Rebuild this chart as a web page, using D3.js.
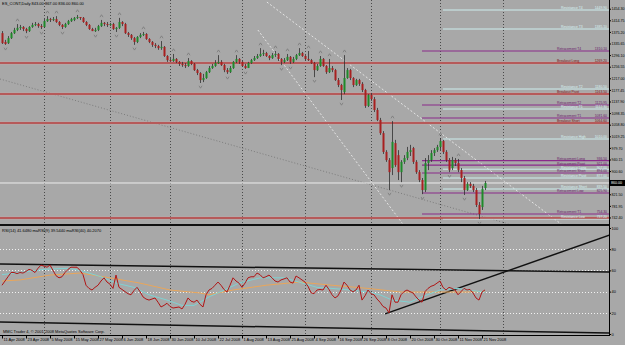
<!DOCTYPE html>
<html lang="en">
<head>
<meta charset="utf-8">
<script src="https://d3js.org/d3.v7.min.js"></script>
<style>
  body { margin: 0; background: #a8a8a8; }
  svg { display: block; font-family: "Liberation Sans", Arial, sans-serif; }
</style>
</head>
<body>
<script>
// ES_CONT daily bars, bar 0 = 11 Apr 2008
const open = [1371,1341,1337,1354,1371,1382,1389,1392,1385,1378,
  1392,1399,1402,1395,1392,1412,1419,1416,1419,1409,
  1399,1392,1402,1412,1416,1423,1426,1423,1409,1399,
  1385,1378,1382,1395,1406,1402,1399,1402,1385,1389,
  1409,1402,1371,1365,1354,1341,1358,1365,1368,1351,
  1341,1331,1327,1320,1324,1293,1279,1276,1283,1273,
  1266,1262,1259,1276,1266,1245,1235,1211,1218,1238,
  1252,1259,1269,1273,1262,1245,1238,1252,1273,1283,
  1273,1259,1252,1269,1279,1286,1293,1300,1303,1293,
  1286,1296,1300,1283,1273,1279,1290,1273,1283,1296,
  1303,1293,1283,1279,1269,1245,1259,1283,1259,1238,
  1252,1245,1211,1194,1170,1218,1245,1218,1194,1211,
  1198,1177,1123,1160,1146,1109,1075,1030,966,938,
  911,996,955,897,932,945,966,979,932,897,
  870,836,928,938,962,972,983,1003,966,938,
  911,938,928,904,877,836,857,850,836,785,
  778,843];
const high = [1378,1348,1361,1375,1389,1402,1399,1395,1389,1395,
  1406,1409,1406,1402,1419,1429,1423,1426,1429,1412,
  1402,1406,1416,1423,1426,1433,1426,1426,1412,1402,
  1389,1389,1399,1416,1409,1409,1406,1406,1392,1423,
  1412,1406,1375,1368,1358,1361,1371,1375,1371,1354,
  1344,1337,1331,1344,1327,1296,1286,1300,1286,1276,
  1273,1269,1286,1279,1269,1249,1238,1232,1242,1259,
  1266,1279,1296,1279,1266,1252,1259,1276,1296,1286,
  1276,1266,1273,1283,1293,1300,1320,1314,1307,1296,
  1303,1310,1303,1286,1286,1300,1293,1290,1300,1320,
  1307,1296,1310,1283,1273,1266,1293,1286,1262,1283,
  1259,1249,1218,1198,1296,1252,1249,1221,1215,1215,
  1204,1181,1163,1167,1153,1116,1082,1037,972,945,
  1071,1007,972,938,955,983,990,983,938,904,
  877,945,955,972,979,990,1013,1007,972,945,
  949,945,942,911,884,863,863,857,843,795,
  850,867];
const low = [1334,1331,1334,1351,1368,1378,1382,1378,1371,1375,
  1389,1395,1389,1385,1389,1409,1409,1412,1406,1395,
  1385,1389,1399,1409,1412,1419,1416,1406,1395,1382,
  1378,1375,1378,1392,1395,1392,1395,1382,1375,1385,
  1395,1368,1358,1348,1331,1337,1354,1361,1348,1337,
  1324,1320,1314,1314,1290,1273,1273,1273,1269,1259,
  1256,1252,1256,1262,1242,1228,1201,1204,1215,1235,
  1249,1256,1266,1259,1238,1232,1235,1249,1269,1266,
  1256,1249,1252,1266,1276,1283,1290,1293,1290,1279,
  1283,1290,1276,1262,1269,1276,1266,1269,1279,1293,
  1290,1279,1276,1266,1221,1242,1256,1256,1232,1235,
  1238,1208,1187,1143,1163,1215,1211,1187,1191,1191,
  1170,1116,1119,1140,1102,1071,1024,959,932,836,
  887,915,870,863,925,938,952,925,891,863,
  822,829,904,932,952,966,972,959,932,897,
  904,918,897,863,819,833,843,829,778,737,
  768,836];
const close = [1337,1334,1354,1371,1382,1389,1392,1385,1378,1392,
  1399,1402,1395,1392,1412,1419,1416,1419,1409,1399,
  1392,1402,1412,1419,1423,1426,1423,1409,1399,1385,
  1378,1382,1395,1406,1402,1399,1402,1385,1389,1409,
  1402,1371,1365,1354,1341,1358,1365,1368,1351,1341,
  1331,1327,1320,1324,1293,1279,1276,1283,1273,1266,
  1262,1259,1276,1266,1245,1235,1211,1218,1238,1252,
  1259,1269,1273,1262,1245,1238,1252,1273,1283,1273,
  1259,1252,1269,1279,1286,1293,1300,1303,1293,1286,
  1296,1300,1283,1273,1279,1290,1273,1283,1296,1303,
  1293,1283,1279,1269,1245,1259,1283,1259,1238,1252,
  1245,1211,1194,1177,1218,1245,1218,1194,1211,1198,
  1177,1123,1160,1146,1109,1075,1030,966,938,897,
  1000,921,897,932,945,966,972,932,897,870,
  836,928,938,962,972,983,1003,966,938,904,
  938,928,904,877,836,857,850,836,785,754,
  840,860];

const rsi = [46,50,54,58,58,57,58,57.5,59,61,
  60,58,62,65,64,63,65,60,55,53,
  54,58,61,63,63,63,60,56,46,43,
  41.5,44,46,50,53,49,47,43,55.6,44,
  42,40,38,37,41,44,40,35,33,32,
  33,34,30,25.5,27,29,26,24.5,25,25.5,
  23.6,28,34,31,30,32,28,25.5,37,41.5,
  43,46,49,46,42,39.6,46,53,50,48,
  44,48,53,54,54,57.5,56,53,54,55.6,
  53,50,49,51,52,53,49,48,54.7,53,
  51,49,45,39,38,41.5,42,41.5,46,42,
  37,34,36,41.5,49,46,41.5,40,41.5,46,
  32,36,41.5,38,37,33,30,26,24.5,20,
  37,30,30,37,40,41.5,40,38.7,35,32,
  30,40,43,45,46,48,50,44,41.5,44,
  43,41.5,37,40,43,41.5,42,38.7,34,32,
  39.6,41.6];
// moving averages of RSI, read at these bars
const ma9Bars = [0,6,14,22,26,33,38,44,49,55,60,64,66,69,73,79,86,94,99,105,110,116,122,126,130,136,140,146,152,155,161];
const ma9Vals = [56,58,61,62,60,54,48,44,37,32,27,27,30,35,40,48,53,53,49,44,43,41.5,39.6,37,32,30,35,41.5,43,41.5,39.5];
const ma40Bars = [0,6,16,26,36,46,56,66,69,77,88,99,110,122,133,144,155,161];
const ma40Vals = [50,51,55.6,57.5,53,48,41.5,38.7,37,41.5,46,49,46,43,39.6,39.6,39.6,40.2];

const dateBars = [0,8,16,24,32,40,48,56,64,72,80,88,96,104,112,120,128,136,144,152,160];
const dateLabels = ["11 Apr 2008","23 Apr 2008","5 May 2008","15 May 2008","27 May 2008","6 Jun 2008",
  "18 Jun 2008","30 Jun 2008","10 Jul 2008","22 Jul 2008","1 Aug 2008","13 Aug 2008","25 Aug 2008",
  "4 Sep 2008","16 Sep 2008","26 Sep 2008","8 Oct 2008","20 Oct 2008","30 Oct 2008","11 Nov 2008","21 Nov 2008"];
const gridBars = [14,36,56,80,101,123,146,167];
const priceTicks = [1454.30,1414.75,1375.20,1335.65,1296.10,1256.55,1217.00,1177.45,1137.90,1098.35,
  1058.80,1019.25,979.70,940.15,900.60,861.05,821.50,781.95,742.40];
const rsiTicks = [0,20,40,60,80,100];

const fractalUp = [5,15,18,25,33,39,47,53,57,62,72,78,86,91,95,99,102,106,109,114,130,146,152];
const fractalDown = [1,8,13,20,31,38,44,66,75,81,93,96,104,113,129,133,140,149,154,159];

// pivot / target levels (kind: brk = red full width, ret = purple, res = light cyan)
const levelNames = ["Resistance T4","Resistance T3","Retracement T4","Breakout Long","Resistance T2",
  "Breakout Pivot","Retracement T2","Resistance T1","Retracement T1","Breakout Short","Resistance High",
  "Retracement Long","Retracement Pivot","Resistance Long","Retracement Short","Resistance Pivot",
  "Resistance Short","Retracement Low","Retracement T1","Resistance Low",""];
const levelValues = [1449.90,1385.10,1310.10,1269.20,1180.50,1163.50,1125.95,1112.30,1081.60,1064.60,1010.00,
  936.50,921.00,907.00,894.00,877.00,839.50,825.90,754.30,737.20,740.60];
const levelKinds = ["res","res","ret","brk","res","brk","ret","res","ret","brk","res",
  "ret","ret","res","ret","res","res","ret","ret","res","brk"];
const bidPrice = 860;

// hand-drawn lines: [bar, price] pairs
const grayTrend = [[-0.67,1214.6],[202.7,621.6]];
const channelA = [[88.3,1477],[202.7,594]];
const channelB = [[85.3,1381.7],[133.5,721.5]];
// RSI window lines: [bar, rsi]
const rsiUpper = [[-0.67,66],[202.7,58.5]];
const rsiLower = [[-0.67,11.3],[202.7,0.9]];
const rsiRise = [[127.7,19],[202.7,93.5]];

const W = 625, H = 345;
const right = 609;
const FS = 4;
const x = d3.scaleLinear().domain([0, 1]).range([2, 5]);
const yP = d3.scaleLinear().domain([713.34, 1484]).range([226, 0]);
const yR = d3.scaleLinear().domain([0, 100]).range([334, 228]);

const svg = d3.select("body").append("svg").attr("width", W).attr("height", H);
svg.append("rect").attr("width", W).attr("height", H).attr("fill", "#a8a8a8");

const defs = svg.append("defs");
defs.append("clipPath").attr("id", "cpP").append("rect").attr("x", 0).attr("y", 0).attr("width", right).attr("height", 223.5);
defs.append("clipPath").attr("id", "cpR").append("rect").attr("x", 0).attr("y", 227).attr("width", right).attr("height", 108);

// vertical grid
svg.append("g").selectAll("line").data(gridBars).join("line")
  .attr("x1", d => Math.round(x(d)) + 0.5).attr("x2", d => Math.round(x(d)) + 0.5)
  .attr("y1", 0).attr("y2", 335)
  .attr("stroke", "#4a4a4a").attr("stroke-dasharray", "1,2");

// ---------- price window ----------
const gP = svg.append("g").attr("clip-path", "url(#cpP)");
const lineP = d3.line().x(d => x(d[0])).y(d => yP(d[1]));

gP.append("path").attr("d", lineP(grayTrend)).attr("fill", "none")
  .attr("stroke", "#7c7c7c").attr("stroke-dasharray", "1,2");
[channelA, channelB].forEach(c => gP.append("path").attr("d", lineP(c)).attr("fill", "none")
  .attr("stroke", "#f4f4f4").attr("stroke-width", 0.8).attr("stroke-dasharray", "2,2"));

// levels
const levels = levelValues.map((v, i) => ({ v, name: levelNames[i], kind: levelKinds[i] }));
const startBar = { brk: -1, ret: 140, res: 147 };
const lineCol = { brk: "#9a1010", ret: "#8a2a8a", res: "#cdeeee" };
const textCol = { brk: "#7a1010", ret: "#6a1a6a", res: "#d8f4f4" };
const labelX = { brk: 557, ret: 557, res: 561 };
levels.filter(d => d.kind === "brk").forEach(d => {
  gP.append("line").attr("x1", 0).attr("x2", right).attr("y1", yP(d.v)).attr("y2", yP(d.v))
    .attr("stroke", "#d2a4a4").attr("stroke-width", 2.6);
});
levels.forEach(d => {
  gP.append("line").attr("x1", Math.max(0, x(startBar[d.kind]))).attr("x2", right)
    .attr("y1", yP(d.v)).attr("y2", yP(d.v))
    .attr("stroke", lineCol[d.kind]).attr("stroke-width", d.kind === "res" ? 1 : 1.2);
});
// bid line
gP.append("line").attr("x1", 0).attr("x2", right).attr("y1", yP(bidPrice)).attr("y2", yP(bidPrice))
  .attr("stroke", "#ececec").attr("stroke-width", 1);

// candles
const bars = d3.range(close.length);
gP.append("g").selectAll("line").data(bars).join("line")
  .attr("x1", i => x(i) + 0.5).attr("x2", i => x(i) + 0.5)
  .attr("y1", i => yP(high[i])).attr("y2", i => yP(low[i]))
  .attr("stroke", "#303030").attr("stroke-width", 0.8);
gP.append("g").selectAll("rect").data(bars).join("rect")
  .attr("x", i => x(i) - 0.5).attr("width", 2)
  .attr("y", i => yP(Math.max(open[i], close[i])))
  .attr("height", i => Math.max(1, Math.abs(yP(open[i]) - yP(close[i]))))
  .attr("fill", i => close[i] >= open[i] ? "#1f8a2a" : "#a82020");

// fractals
gP.append("g").selectAll("path").data(fractalUp).join("path")
  .attr("d", i => { const cx = x(i) + 0.5, cy = yP(high[i]) - 4; return `M${cx-1.5},${cy+1.2}L${cx},${cy-1.2}L${cx+1.5},${cy+1.2}`; })
  .attr("fill", "none").attr("stroke", "#7a7a7a").attr("stroke-width", 0.8);
gP.append("g").selectAll("path").data(fractalDown).join("path")
  .attr("d", i => { const cx = x(i) + 0.5, cy = yP(low[i]) + 4; return `M${cx-1.5},${cy-1.2}L${cx},${cy+1.2}L${cx+1.5},${cy-1.2}`; })
  .attr("fill", "none").attr("stroke", "#7a7a7a").attr("stroke-width", 0.8);

// level labels
levels.filter(d => d.name).forEach(d => {
  gP.append("text").attr("x", labelX[d.kind]).attr("y", yP(d.v) - 0.6).attr("font-size", 3.4)
    .attr("fill", textCol[d.kind]).text(d.name);
  gP.append("text").attr("x", 607).attr("y", yP(d.v) - 0.6).attr("font-size", 3.4)
    .attr("text-anchor", "end").attr("fill", textCol[d.kind]).text(d.v.toFixed(2));
});

svg.append("text").attr("x", 2).attr("y", 4.5).attr("font-size", FS).attr("fill", "#000")
  .text(`ES_CONT,Daily  ${open[161].toFixed(2)} ${high[161].toFixed(2)} ${low[161].toFixed(2)} ${close[161].toFixed(2)}`);

// window separator
svg.append("line").attr("x1", 0).attr("x2", right + 1).attr("y1", 225).attr("y2", 225)
  .attr("stroke", "#111").attr("stroke-width", 2);

// ---------- RSI window ----------
const gR = svg.append("g").attr("clip-path", "url(#cpR)");
const lineR = d3.line().x(d => x(d[0])).y(d => yR(d[1]));
gR.append("g").selectAll("line").data([20, 40, 60, 80]).join("line")
  .attr("x1", 0).attr("x2", right).attr("y1", d => Math.round(yR(d)) + 0.5).attr("y2", d => Math.round(yR(d)) + 0.5)
  .attr("stroke", "#f2f2f2").attr("stroke-dasharray", "1,2");
[rsiUpper, rsiLower, rsiRise].forEach(c => gR.append("path").attr("d", lineR(c)).attr("fill", "none")
  .attr("stroke", "#111").attr("stroke-width", 1.5));
gR.append("path").attr("d", lineR(ma40Bars.map((b, i) => [b, ma40Vals[i]]))).attr("fill", "none")
  .attr("stroke", "#eaa65a").attr("stroke-width", 1);
gR.append("path").attr("d", lineR(ma9Bars.map((b, i) => [b, ma9Vals[i]]))).attr("fill", "none")
  .attr("stroke", "#7fd2d2").attr("stroke-width", 1);
gR.append("path").attr("d", lineR(rsi.map((v, i) => [i, v]))).attr("fill", "none")
  .attr("stroke", "#b01515").attr("stroke-width", 1);

svg.append("text").attr("x", 2).attr("y", 231.5).attr("font-size", FS).attr("fill", "#000")
  .text("RSI(14) 41.6480  maRSI(9) 39.5440  maRSI(40) 40.2070");
svg.append("text").attr("x", 3).attr("y", 333).attr("font-size", FS).attr("fill", "#000")
  .text("MMC Trader 4, © 2001-2008 MetaQuotes Software Corp.");

// ---------- axes ----------
svg.append("line").attr("x1", right + 0.5).attr("x2", right + 0.5).attr("y1", 0).attr("y2", 336).attr("stroke", "#000");
svg.append("line").attr("x1", 0).attr("x2", right + 0.5).attr("y1", 335.5).attr("y2", 335.5).attr("stroke", "#000");

const axP = svg.append("g").attr("transform", `translate(${right + 0.5},0)`)
  .call(d3.axisRight(yP).tickValues(priceTicks).tickSize(1.5).tickPadding(0.5).tickFormat(d3.format(".2f")));
const axR = svg.append("g").attr("transform", `translate(${right + 0.5},0)`)
  .call(d3.axisRight(yR).tickValues(rsiTicks).tickSize(1.5).tickPadding(0.5));
const axD = svg.append("g").attr("transform", "translate(0,335.5)")
  .call(d3.axisBottom(x).tickValues(dateBars).tickSize(3).tickPadding(1).tickFormat((d, i) => dateLabels[i]));
[axP, axR, axD].forEach(a => {
  a.select(".domain").remove();
  a.selectAll("text").attr("font-size", FS).attr("font-family", "Liberation Sans, Arial, sans-serif").attr("fill", "#000");
  a.selectAll("line").attr("stroke", "#000");
});
axP.selectAll("text").attr("font-size", 3.6);
axD.selectAll("text").attr("text-anchor", "start").attr("dx", 1).attr("dy", "0.4em");

// bid price tag
svg.append("rect").attr("x", right + 1).attr("y", yP(bidPrice) - 3).attr("width", W - right - 1).attr("height", 6).attr("fill", "#000");
svg.append("text").attr("x", right + 2).attr("y", yP(bidPrice) + 1.4).attr("font-size", 3.6).attr("fill", "#fff")
  .text(bidPrice.toFixed(2));
</script>
</body>
</html>
